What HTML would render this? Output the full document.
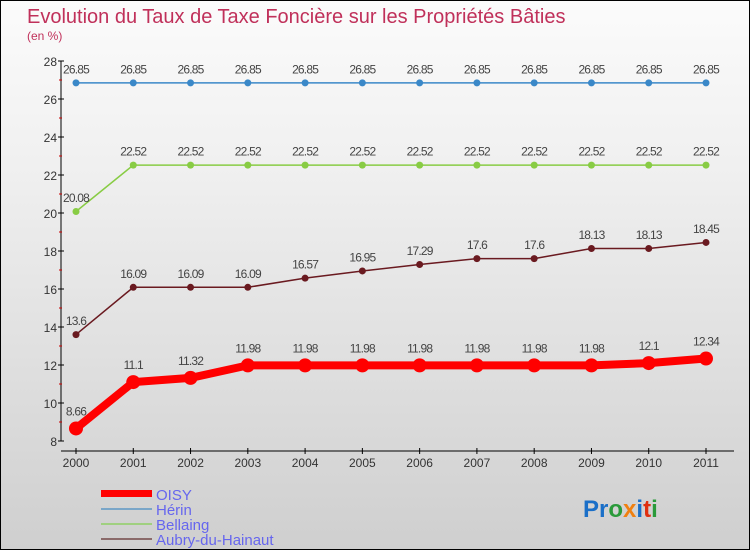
<!DOCTYPE html>
<html><head><meta charset="utf-8"><style>
body{margin:0}
#c{width:750px;height:550px;position:relative;box-sizing:border-box;border:1px solid #000;background:linear-gradient(#fbfbfb,#f0f0f0 30%,#cfcfcf);font-family:"Liberation Sans",sans-serif;overflow:hidden}
text{font-family:"Liberation Sans",sans-serif}
</style></head><body>
<div id="c">
<svg id="s" width="750" height="550">
<text x="26" y="22" font-size="20" fill="#c0305a">Evolution du Taux de Taxe Foncière sur les Propriétés Bâties</text>
<text x="26" y="39" font-size="12" fill="#c0305a">(en %)</text>
<g id="axes"></g><g id="series"></g>
<g>
<rect x="100" y="489" width="51" height="7" fill="#f00"/>
<text x="155" y="499" font-size="15" fill="#6666ee">OISY</text>
<rect x="100" y="507" width="51" height="2" fill="#7aa6c8"/>
<text x="155" y="514" font-size="15" fill="#6666ee">Hérin</text>
<rect x="100" y="522" width="51" height="2" fill="#a0d080"/>
<text x="155" y="529" font-size="15" fill="#6666ee">Bellaing</text>
<rect x="100" y="537" width="51" height="2" fill="#8a6a6a"/>
<text x="155" y="544" font-size="15" fill="#6666ee">Aubry-du-Hainaut</text>
</g>
<text x="582" y="516" font-size="24" font-weight="bold"><tspan fill="#1a6fc8">Pr</tspan><tspan fill="#2a9a3a">o</tspan><tspan fill="#f08010">x</tspan><tspan fill="#1a6fc8">i</tspan><tspan fill="#e03010">t</tspan><tspan fill="#2a9a3a">i</tspan></text>
</svg></div>
<script>
const years=[2000,2001,2002,2003,2004,2005,2006,2007,2008,2009,2010,2011];
const yTicks=[8,10,12,14,16,18,20,22,24,26,28];
const oisy=[8.66,11.1,11.32,11.98,11.98,11.98,11.98,11.98,11.98,11.98,12.1,12.34];
const herin=[26.85,26.85,26.85,26.85,26.85,26.85,26.85,26.85,26.85,26.85,26.85,26.85];
const bellaing=[20.08,22.52,22.52,22.52,22.52,22.52,22.52,22.52,22.52,22.52,22.52,22.52];
const aubry=[13.6,16.09,16.09,16.09,16.57,16.95,17.29,17.6,17.6,18.13,18.13,18.45];
const NS="http://www.w3.org/2000/svg";
const X=i=>75+i*(630/11), Y=v=>440-(v-8)*19;
function mk(t,a,p){const e=document.createElementNS(NS,t);for(const k in a)e.setAttribute(k,a[k]);p.appendChild(e);return e;}
const ax=document.getElementById('axes');
let e=mk('line',{x1:60,y1:60,x2:60,y2:440,stroke:'#000'},ax);

e=mk('line',{x1:60,y1:450,x2:733,y2:450,stroke:'#000'},ax);

yTicks.forEach(v=>{mk('line',{x1:57,x2:63,y1:Y(v),y2:Y(v),stroke:'#000'},ax);
 if(v<28)mk('line',{x1:58,x2:61,y1:Y(v+1),y2:Y(v+1),stroke:'#c00'},ax);
 const t=mk('text',{x:56,y:Y(v)+5,'font-size':12,fill:'#333','text-anchor':'end'},ax);t.textContent=v;
 });
years.forEach((y,i)=>{mk('line',{x1:X(i),x2:X(i),y1:447,y2:453,stroke:'#000'},ax);
 const t=mk('text',{x:X(i),y:466,'font-size':12,fill:'#333','text-anchor':'middle'},ax);t.textContent=y;
 });
const sg=document.getElementById('series');
function series(d,name,col,w,r,fmt){
 const g=mk('g',{},sg);
 const p=mk('polyline',{points:d.map((v,i)=>X(i)+','+Y(v)).join(' '),fill:'none',stroke:col,'stroke-width':w,'stroke-linejoin':'round'},g);
 
 d.forEach((v,i)=>{const c=mk('circle',{cx:X(i),cy:Y(v),r:r,fill:col},g);
  
  const t=mk('text',{x:X(i),y:Y(v)-(r+6),'font-size':12,fill:'#444','text-anchor':'middle','letter-spacing':'-0.8'},g);t.textContent=v;
  });
}
series(herin,'herin','#3a88c8',1.5,3.5);
series(bellaing,'bellaing','#88cc44',1.5,3.5);
series(aubry,'aubry-du-hainaut','#6a1a20',1.5,3.5);
series(oisy,'oisy','#f00',8,7);
</script></body></html>
